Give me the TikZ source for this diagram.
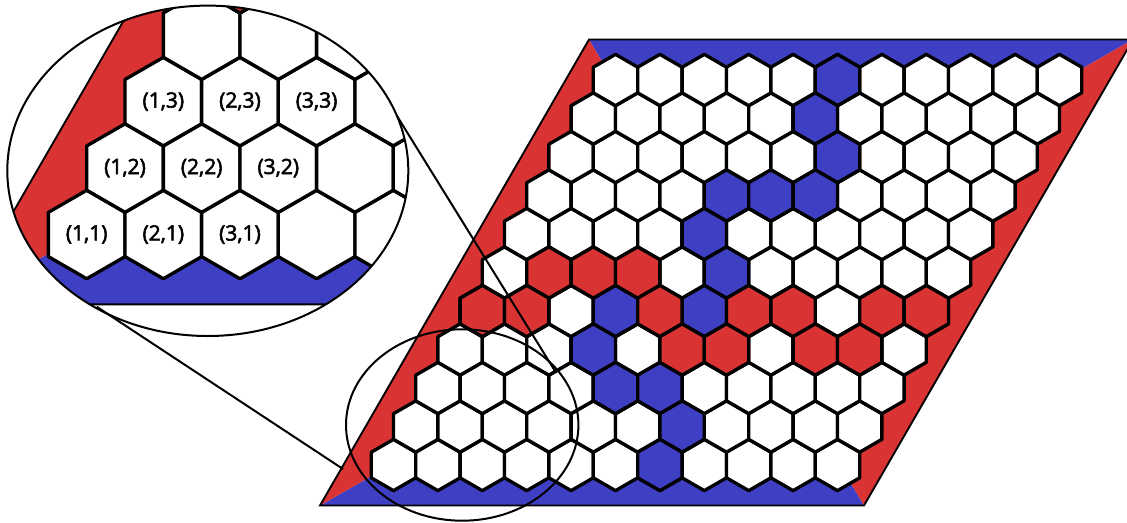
\documentclass[tikz,border=0pt]{standalone}
\usepackage{fontspec}
\setmainfont{Open Sans}
\newfontfamily\lblfont[FakeBold=2.5]{Open Sans}
\definecolor{hexred}{RGB}{217,51,51}
\definecolor{hexblue}{RGB}{63,63,196}
\newcommand\hexat[3]{%
  \pgfmathsetmacro\hcx{393.5+44.4*(#1-1)+22.2*(#2-1)}%
  \pgfmathsetmacro\hcy{465-38.5*(#2-1)}%
  \draw[hexcell,fill=#3] (\hcx,\hcy) +(90:25.63) -- +(30:25.63) -- +(-30:25.63)
    -- +(-90:25.63) -- +(-150:25.63) -- +(150:25.63) -- cycle;}
\newcommand\hexboard{%
  \fill[hexblue] (320,505.5) -- (864,505.5) -- (726.5,272.5) -- cycle;
  \fill[hexblue] (589,39.5) -- (1133,39.5) -- (726.5,272.5) -- cycle;
  \fill[hexred] (320,505.5) -- (589,39.5) -- (726.5,272.5) -- cycle;
  \fill[hexred] (864,505.5) -- (1133,39.5) -- (726.5,272.5) -- cycle;
  \draw[edge] (320,505.5) -- (864,505.5) -- (1133,39.5) -- (589,39.5) -- cycle;
  \foreach \jj in {1,...,11}{\foreach \ii in {1,...,11}{\hexat{\ii}{\jj}{white}}}
  \foreach \ii/\jj in {6/11,6/10,7/9,5/8,6/8,7/8,5/7,6/6,4/5,6/5,4/4,5/3,6/3,7/2,7/1}{\hexat{\ii}{\jj}{hexblue}}
  \foreach \ii/\jj in {2/6,3/6,4/6,1/5,2/5,5/5,7/5,8/5,10/5,11/5,6/4,7/4,9/4,10/4}{\hexat{\ii}{\jj}{hexred}}
}
\begin{document}
\begin{tikzpicture}[x=0.75pt,y=-0.75pt,
  hexcell/.style={draw=black,line width=2.5pt,line join=round},
  edge/.style={draw=black,line width=1.4pt},
  lens/.style={draw=black,line width=1.5pt},
  link/.style={draw=black,line width=1.5pt},
  lbl/.style={font=\lblfont\fontsize{15.8}{18}\selectfont,inner sep=0pt}]
\useasboundingbox (0,0) rectangle (1127,522);
\clip (0,0) rectangle (1127,522);
% main board
\hexboard
% magnified view
\begin{scope}
  \clip (207.8,170.8) ellipse [x radius=200.5, y radius=165.2];
  \begin{scope}[shift={(-592.48,-568.09)},scale=1.726]
    \hexboard
    \node[lbl] (l11) at (393.5,465) {(1,1)};
    \node[lbl] (l21) at (437.9,465) {(2,1)};
    \node[lbl] (l31) at (482.3,465) {(3,1)};
    \node[lbl] (l12) at (415.7,426.5) {(1,2)};
    \node[lbl] (l22) at (460.1,426.5) {(2,2)};
    \node[lbl] (l32) at (504.5,426.5) {(3,2)};
    \node[lbl] (l13) at (437.9,388) {(1,3)};
    \node[lbl] (l23) at (482.3,388) {(2,3)};
    \node[lbl] (l33) at (526.7,388) {(3,3)};
  \end{scope}
\end{scope}
\draw[lens] (207.8,170.8) ellipse [x radius=200.5, y radius=165.2];
\draw[lens] (462.2,425) ellipse [x radius=116.2, y radius=95.7];
% connectors
\coordinate (aTop) at (397,116);
\coordinate (aBot) at (555,371);
\coordinate (bTop) at (96.7,306.7);
\coordinate (bBot) at (343,469);
\draw[link] (aTop) -- (aBot);
\draw[link] (bTop) -- (bBot);
\end{tikzpicture}
\end{document}
